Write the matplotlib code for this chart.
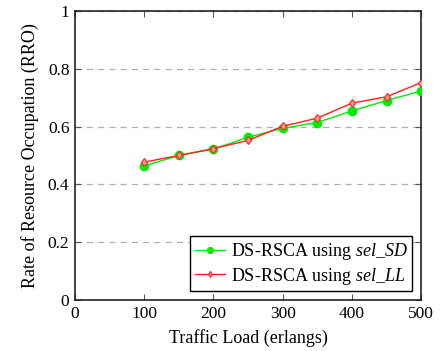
import matplotlib
matplotlib.use("Agg")
import matplotlib.pyplot as plt

plt.rcParams['font.family'] = ['Liberation Serif', 'DejaVu Serif']
plt.rcParams['mathtext.fontset'] = 'custom'
plt.rcParams['mathtext.rm'] = 'Liberation Serif'
plt.rcParams['mathtext.it'] = 'Liberation Serif:italic'

traffic = [100, 150, 200, 250, 300, 350, 400, 450, 500]
rro_sd = [0.464, 0.500, 0.522, 0.563, 0.594, 0.614, 0.654, 0.690, 0.723]
rro_ll = [0.477, 0.500, 0.524, 0.552, 0.601, 0.629, 0.681, 0.703, 0.752]
label_sd = r"DS-RSCA using $\mathit{sel\_SD}$"
label_ll = r"DS-RSCA using $\mathit{sel\_LL}$"
xticks = [0, 100, 200, 300, 400, 500]
yticks = [0, 0.2, 0.4, 0.6, 0.8, 1]
ytick_labels = ["0", "0.2", "0.4", "0.6", "0.8", "1"]

fig = plt.figure(figsize=(4.41, 3.51), dpi=100)
ax = fig.add_axes([0.170, 0.145, 0.785, 0.824])

ax.plot(traffic, rro_sd, color='#00ee00', marker='o', markersize=6, linewidth=1.0,
        label=label_sd, zorder=3)
ax.plot(traffic, rro_ll, color='#ff2020', marker='d', markersize=4.5, linewidth=1.0,
        markerfacecolor='#ff9a9a', markeredgewidth=0.8, label=label_ll, zorder=4)

ax.set_xlim(0, 500)
ax.set_ylim(0, 1)
ax.set_xticks(xticks)
ax.set_yticks(yticks)
ax.set_yticklabels(ytick_labels)
ax.tick_params(direction='in', top=True, right=True, labelsize=12.5, length=4,
               color='#555555', pad=4)
for s in ax.spines.values():
    s.set_linewidth(1.2)
    s.set_color('#222222')
ax.yaxis.grid(True, linestyle=(0, (5, 4)), color='#b0b0b0', linewidth=0.9)
ax.set_axisbelow(True)

ax.set_xlabel("Traffic Load (erlangs)", fontsize=13, labelpad=5)
ax.set_ylabel("Rate of Resource Occupation (RRO)", fontsize=13, labelpad=6)

leg = ax.legend(loc='lower right', fontsize=13, frameon=True, fancybox=False,
                edgecolor='black', framealpha=1, borderpad=0.25, handlelength=1.7,
                handletextpad=0.3, labelspacing=0.2, borderaxespad=0.5,
                markerscale=0.7)
leg.get_frame().set_linewidth(1.0)

fig.savefig("out.png", dpi=100)
